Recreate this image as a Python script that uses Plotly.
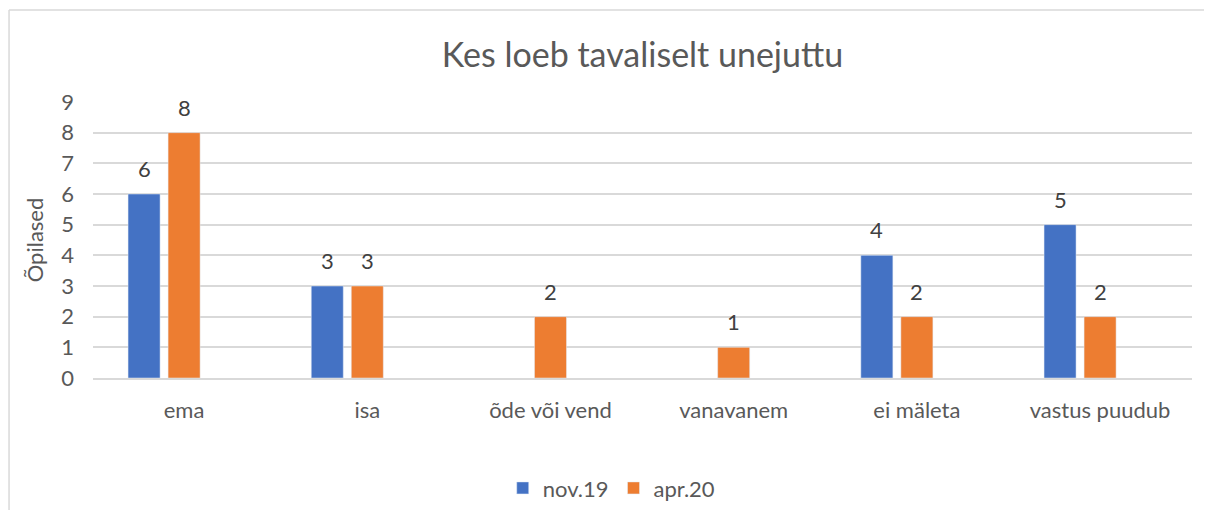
"""
Kes loeb tavaliselt unejuttu - grouped bar chart
"""

import plotly.graph_objects as go

categories = ["ema", "isa", "õde või vend", "vanavanem", "ei mäleta", "vastus puudub"]
nov19 = [6, 3, None, None, 4, 5]
apr20 = [8, 3, 2, 1, 2, 2]
series_names = ["nov.19", "apr.20"]
y_ticks = list(range(0, 10))

BLUE = "#4472C4"
ORANGE = "#ED7D31"
FONT = "Lato"

fig = go.Figure()
fig.add_trace(go.Bar(name=series_names[0], x=categories, y=nov19, marker_color=BLUE))
fig.add_trace(go.Bar(name=series_names[1], x=categories, y=apr20, marker_color=ORANGE))

# data labels above the bars
for vals, shift in [(nov19, -20), (apr20, 20)]:
    for cat, v in zip(categories, vals):
        if v is None:
            continue
        fig.add_annotation(x=cat, y=v, text=str(v), showarrow=False,
                           xshift=shift, yshift=10, yanchor="bottom",
                           font=dict(family=FONT, size=22, color="#404040"))

# chart border: only the left and top edges are inside the picture
border = dict(color="#d9d9d9", width=1.5)
fig.add_shape(type="line", xref="paper", yref="paper",
              x0=-0.0764, x1=-0.0764, y0=-0.6, y1=1.333, line=border, layer="below")
fig.add_shape(type="line", xref="paper", yref="paper",
              x0=-0.0764, x1=1.06, y0=1.333, y1=1.333, line=border, layer="below")

# page has an 8px body margin, so keep the figure inside the window
fig.update_layout(
    width=1196, height=502,
    margin=dict(l=85, r=12, t=94, b=132, autoexpand=False),
    paper_bgcolor="white", plot_bgcolor="white",
    barmode="group", bargap=0.563, bargroupgap=0.2,
    title=dict(text="Kes loeb tavaliselt unejuttu", x=0.5, xref="paper",
               xanchor="center", y=0.9064, yanchor="middle",
               font=dict(family=FONT, size=34, color="#595959")),
    font=dict(family=FONT, color="#595959"),
    legend=dict(orientation="h", x=0.472, xanchor="center", y=-0.399, yanchor="middle",
                font=dict(family=FONT, size=22, color="#595959"),
                itemwidth=30, traceorder="normal"),
    xaxis=dict(range=[-0.388, 5.611], showgrid=False, showline=True, automargin=False,
               linecolor="#d9d9d9", linewidth=1.5, ticks="",
               tickfont=dict(family=FONT, size=22, color="#595959"),
               ticklabelshift=20, ticklabelstandoff=12),
    yaxis=dict(range=[0, 9], tickvals=y_ticks, showgrid=True, gridcolor="#d9d9d9",
               gridwidth=1.5, zeroline=False, showline=False, ticks="", automargin=False,
               tickfont=dict(family=FONT, size=22, color="#595959"),
               ticklabelstandoff=18,
               title=dict(text="Õpilased", standoff=11,
                          font=dict(family=FONT, size=22, color="#595959"))),
)

fig.write_html("out.html")
